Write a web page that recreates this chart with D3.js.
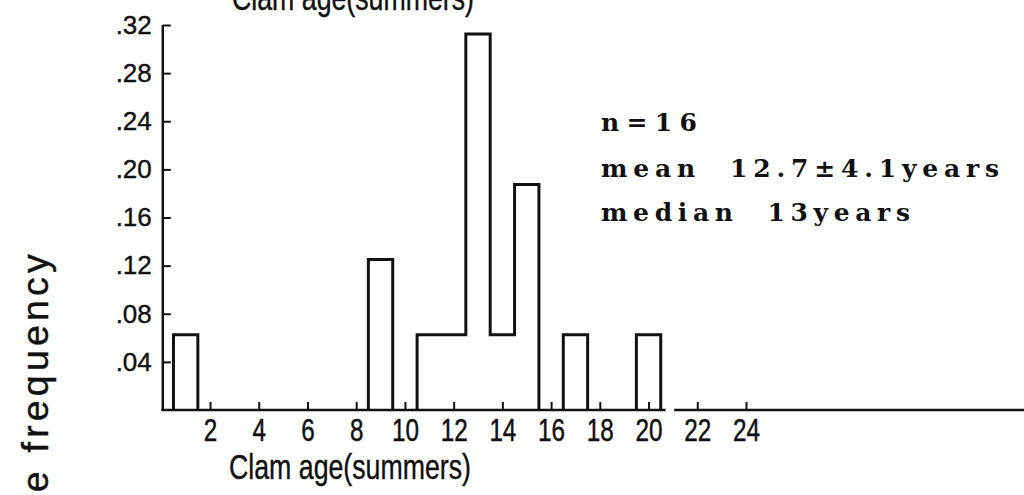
<!DOCTYPE html>
<html>
<head>
<meta charset="utf-8">
<script src="https://cdn.jsdelivr.net/npm/d3@7"></script>
<style>
  html, body { margin: 0; padding: 0; background: #fff; }
  svg { display: block; }
</style>
</head>
<body>
<svg id="chart" width="1024" height="495"></svg>
<script>
// ---- data ----
const ages = [1, 9, 11, 12, 13, 14, 15, 17, 20];
const freqs = [0.0625, 0.125, 0.0625, 0.0625, 0.3125, 0.0625, 0.1875, 0.0625, 0.0625];
const yTicks = [0.04, 0.08, 0.12, 0.16, 0.20, 0.24, 0.28, 0.32];
const xTicks = [2, 4, 6, 8, 10, 12, 14, 16, 18, 20, 22, 24];
const statLines = ["n=16", "mean  12.7±4.1years", "median  13years"];
const xTitle = "Clam age(summers)";
const yTitle = "Relative frequency";

// ---- layout ----
const svg = d3.select("#chart");
const W = 1024, H = 495;
const x = d3.scaleLinear().domain([0, 24]).range([161.3, 746]);
const y = d3.scaleLinear().domain([0, 0.32]).range([410, 25]);
const ink = "#111";
const sans = "'Liberation Sans', Arial, Helvetica, sans-serif";

// ---- histogram outline (step path per contiguous run) ----
const bins = ages.map((a, i) => ({ a, f: freqs[i] }));
const runs = [];
bins.forEach(b => {
  const last = runs[runs.length - 1];
  if (last && b.a === last[last.length - 1].a + 1) last.push(b);
  else runs.push([b]);
});
runs.forEach(run => {
  const p = d3.path();
  p.moveTo(x(run[0].a - 0.5), y(0));
  p.lineTo(x(run[0].a - 0.5), y(run[0].f));
  run.forEach((b, i) => {
    p.lineTo(x(b.a + 0.5), y(b.f));
    const next = run[i + 1];
    p.lineTo(x(b.a + 0.5), y(next ? next.f : 0));
  });
  svg.append("path").attr("d", p.toString())
    .attr("fill", "none").attr("stroke", ink).attr("stroke-width", 3)
    .attr("stroke-linejoin", "miter");
});

// ---- x axis ----
const xAxisG = svg.append("g").attr("transform", `translate(0,${y(0)})`)
  .call(d3.axisBottom(x).tickValues(xTicks).tickSize(-8).tickPadding(0).tickFormat(d3.format("d")));
xAxisG.select(".domain").remove();
xAxisG.selectAll(".tick line").attr("stroke", ink).attr("stroke-width", 2);
xAxisG.selectAll(".tick text")
  .attr("y", 31).attr("dy", null)
  .attr("font-family", sans).attr("font-size", 31).attr("fill", ink)
  .attr("stroke", ink).attr("stroke-width", 0.5)
  .attr("textLength", d => String(d).length * 13.5)
  .attr("lengthAdjust", "spacingAndGlyphs");
// axis baseline with a small break between 20 and 22
const xEnd = x.invert(W);
[[0, 20.7], [21.05, xEnd]].forEach(([a, b]) => {
  svg.append("line")
    .attr("x1", x(a)).attr("x2", x(b)).attr("y1", y(0)).attr("y2", y(0))
    .attr("stroke", ink).attr("stroke-width", 2.5);
});

// ---- y axis ----
const yAxisG = svg.append("g").attr("transform", `translate(${x(0) + 1.5},0)`)
  .call(d3.axisLeft(y).tickValues(yTicks).tickSize(-8).tickPadding(11)
    .tickFormat(d => d3.format(".2f")(d).replace(/^0/, "")));
yAxisG.select(".domain").attr("stroke", ink).attr("stroke-width", 2.5)
  .attr("d", `M0,${y(0.32)}V${y(0)}`);
yAxisG.selectAll(".tick line").attr("stroke", ink).attr("stroke-width", 2);
yAxisG.selectAll(".tick text")
  .attr("font-family", sans).attr("font-size", 26).attr("fill", ink)
  .attr("stroke", ink).attr("stroke-width", 0.4);

// ---- titles ----
svg.append("text").text(xTitle)
  .attr("x", 229).attr("y", 479)
  .attr("font-family", sans).attr("font-size", 35).attr("fill", ink)
  .attr("stroke", ink).attr("stroke-width", 0.4)
  .attr("textLength", 242).attr("lengthAdjust", "spacingAndGlyphs");
svg.append("text").text(xTitle)
  .attr("x", 232).attr("y", 10)
  .attr("font-family", sans).attr("font-size", 35).attr("fill", ink)
  .attr("stroke", ink).attr("stroke-width", 0.4)
  .attr("textLength", 242).attr("lengthAdjust", "spacingAndGlyphs");
svg.append("text").text(yTitle)
  .attr("transform", "translate(48,250) rotate(-90)")
  .attr("text-anchor", "end")
  .attr("font-family", sans).attr("font-size", 37.5).attr("letter-spacing", 4.2)
  .attr("fill", ink).attr("stroke", ink).attr("stroke-width", 0.4);

// ---- stats annotation ----
const statY = [131, 177, 221];
const statW = [96, 398, 309];
statLines.forEach((s, i) => {
  svg.append("text").text(s)
    .attr("x", 601).attr("y", statY[i])
    .attr("font-family", "'DejaVu Serif', serif").attr("font-size", 25)
    .attr("font-weight", "bold")
    .attr("fill", ink).attr("xml:space", "preserve").style("white-space", "pre")
    .attr("textLength", statW[i]).attr("lengthAdjust", "spacing");
});
</script>
</body>
</html>
